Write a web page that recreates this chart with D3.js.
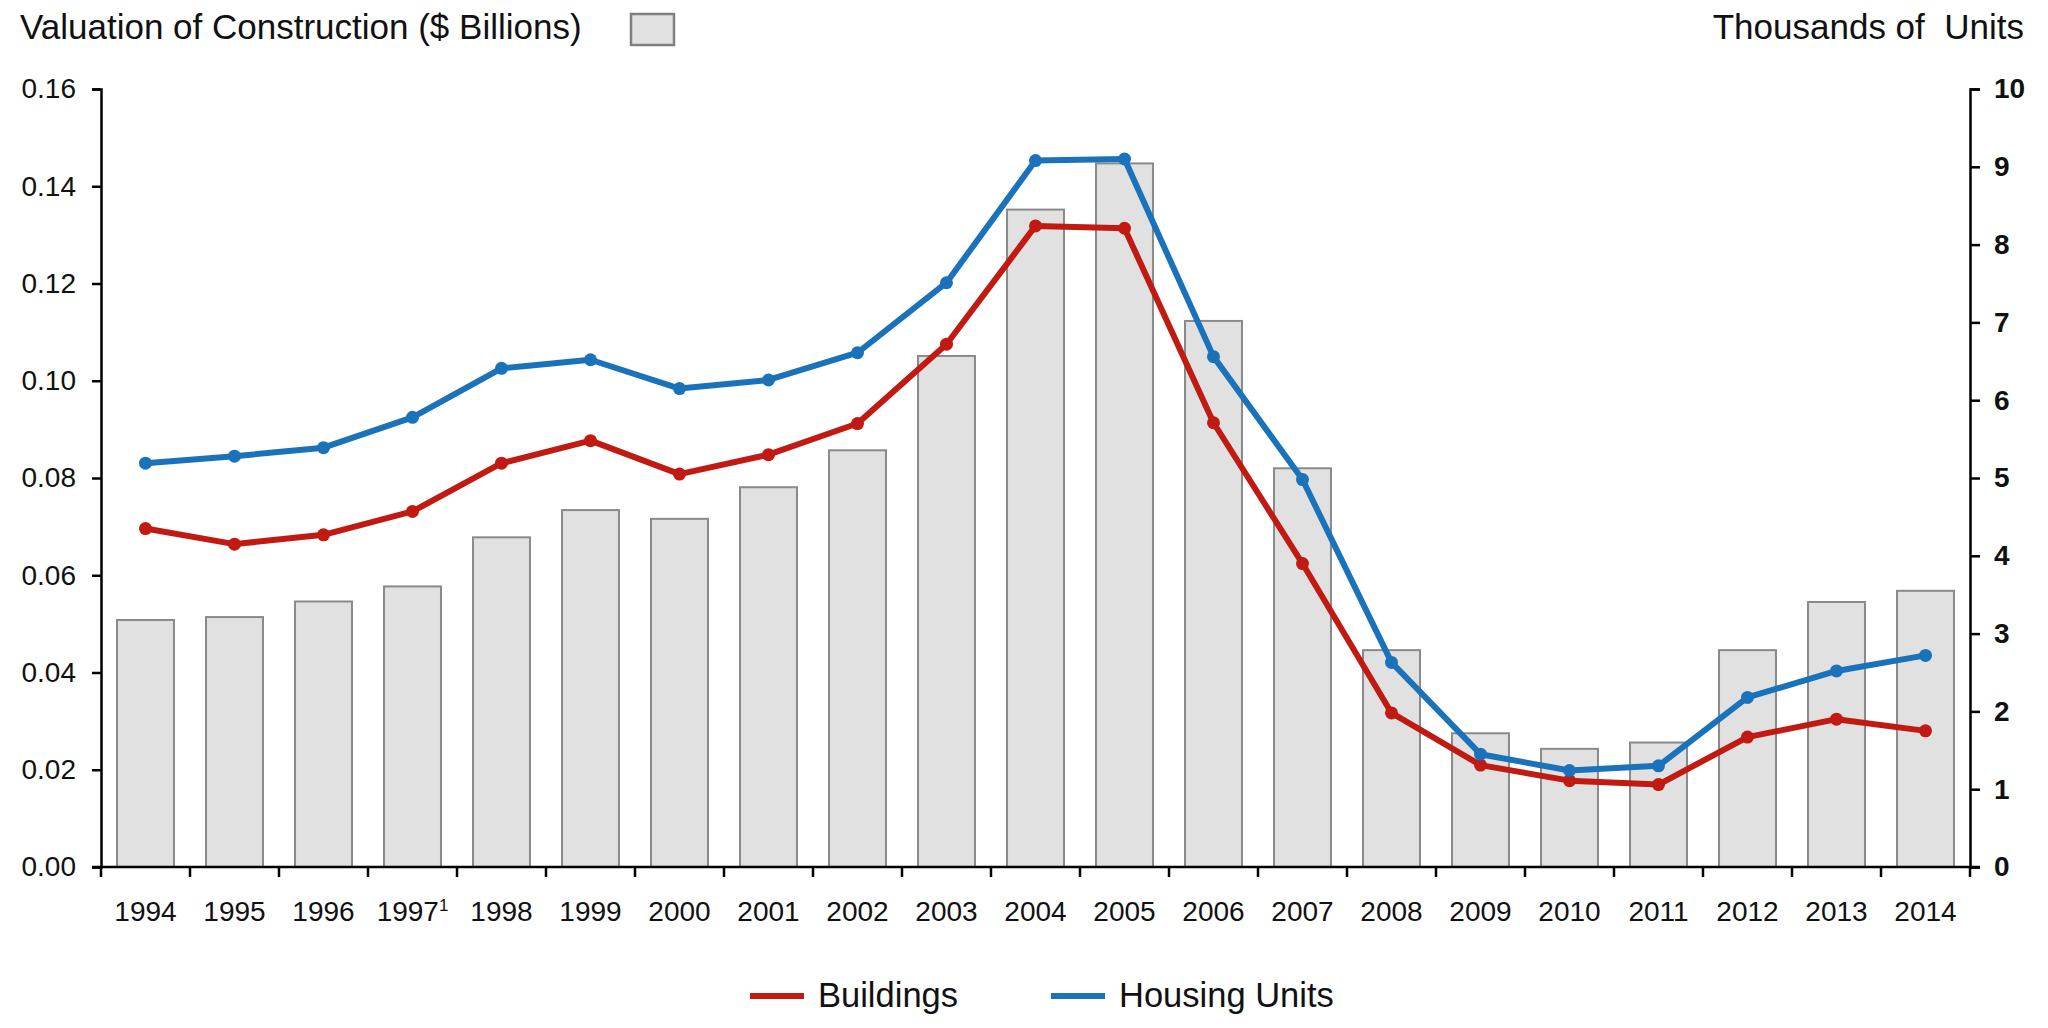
<!DOCTYPE html>
<html>
<head>
<meta charset="utf-8">
<script src="https://cdn.jsdelivr.net/npm/d3@7"></script>
<style>
  body { margin: 0; background: #fff; }
  text { font-family: "Liberation Sans", Arial, sans-serif; fill: #111; }
</style>
</head>
<body>
<svg id="canvas" width="2048" height="1028"></svg>
<script>
// values
const years = ["1994","1995","1996","1997","1998","1999","2000","2001","2002","2003","2004",
               "2005","2006","2007","2008","2009","2010","2011","2012","2013","2014"]
const valuation = [0.0508,0.0514,0.0546,0.0577,0.0678,0.0734,0.0716,0.0781,0.0857,0.1051,0.1352,
                   0.1447,0.1123,0.0820,0.0446,0.0275,0.0243,0.0256,0.0446,0.0545,0.0568]
const buildings = [4.35,4.15,4.27,4.57,5.19,5.48,5.05,5.30,5.70,6.72,8.24,
                   8.21,5.71,3.90,1.98,1.31,1.11,1.06,1.67,1.90,1.75]
const housingUnits = [5.19,5.28,5.39,5.78,6.41,6.52,6.15,6.26,6.61,7.51,9.08,
                      9.10,6.56,4.98,2.63,1.45,1.24,1.30,2.18,2.52,2.72]
const leftTicks = [0,0.02,0.04,0.06,0.08,0.10,0.12,0.14,0.16]
const rightTicks = [0,1,2,3,4,5,6,7,8,9,10]

const red = '#c01a13'
const blue = '#1a72bb'

const canvas = d3.select('#canvas')
const plotLeft = 101, plotRight = 1970, plotTop = 89, plotBottom = 867

const x = d3.scaleBand().domain(years).range([plotLeft, plotRight]).paddingInner(0.36).paddingOuter(0.18)
const xb = d3.scaleBand().domain(years).range([plotLeft, plotRight])
const yL = d3.scaleLinear().domain([0, 0.16]).range([plotBottom, plotTop])
const yR = d3.scaleLinear().domain([0, 10]).range([plotBottom, plotTop])

// bars
canvas.selectAll('rect.bar')
    .data(years)
    .enter()
    .append('rect')
    .attr('class', 'bar')
    .attr('x', d => x(d))
    .attr('width', x.bandwidth())
    .attr('y', (d, i) => yL(valuation[i]))
    .attr('height', (d, i) => plotBottom - yL(valuation[i]))
    .attr('fill', '#e1e1e1')
    .attr('stroke', '#8a8a8a')
    .attr('stroke-width', 2)

// lines
const cx = d => xb(d) + xb.bandwidth() / 2
function drawSeries(vals, color) {
    const line = d3.line()
        .x((d, i) => cx(years[i]))
        .y(d => yR(d))
    canvas.append('path')
        .attr('d', line(vals))
        .attr('fill', 'none')
        .attr('stroke', color)
        .attr('stroke-width', 6)
        .attr('stroke-linejoin', 'round')
    canvas.selectAll(null)
        .data(vals)
        .enter()
        .append('circle')
        .attr('cx', (d, i) => cx(years[i]))
        .attr('cy', d => yR(d))
        .attr('r', 6.5)
        .attr('fill', color)
}
drawSeries(buildings, red)
drawSeries(housingUnits, blue)

// axes
function styleAxis(g) {
    g.select('.domain').attr('stroke', '#000').attr('stroke-width', 2.5)
    g.selectAll('.tick line').attr('stroke', '#000').attr('stroke-width', 2.5)
    g.selectAll('.tick text').attr('font-size', 28)
}

const axL = canvas.append('g')
    .attr('transform', `translate(${plotLeft},0)`)
    .call(d3.axisLeft(yL).tickValues(leftTicks).tickFormat(d3.format('.2f')).tickSize(9).tickSizeOuter(9).tickPadding(16))
styleAxis(axL)

const axR = canvas.append('g')
    .attr('transform', `translate(${plotRight},0)`)
    .call(d3.axisRight(yR).tickValues(rightTicks).tickFormat(d3.format('d')).tickSize(10).tickSizeOuter(10).tickPadding(14))
styleAxis(axR)
axR.selectAll('.tick text').attr('font-weight', 'bold')

const axB = canvas.append('g')
    .attr('transform', `translate(0,${plotBottom})`)
    .call(d3.axisBottom(xb).tickSize(0).tickPadding(34))
styleAxis(axB)
axB.select('.domain').attr('d', `M${plotLeft - 9},0H${plotRight + 10}`)
axB.selectAll('.tick line').remove()
// ticks between categories
canvas.append('g')
    .selectAll('line')
    .data(years)
    .enter()
    .append('line')
    .attr('x1', d => xb(d) + xb.bandwidth())
    .attr('x2', d => xb(d) + xb.bandwidth())
    .attr('y1', plotBottom)
    .attr('y2', plotBottom + 10)
    .attr('stroke', '#000')
    .attr('stroke-width', 2.5)
canvas.append('line')
    .attr('x1', plotLeft).attr('x2', plotLeft).attr('y1', plotBottom).attr('y2', plotBottom + 10)
    .attr('stroke', '#000').attr('stroke-width', 2.5)
axB.selectAll('.tick text')
    .filter(d => d === '1997')
    .append('tspan')
    .attr('dy', -10)
    .attr('font-size', 17)
    .text('1')

// headers
canvas.append('text')
    .attr('x', 20).attr('y', 39)
    .attr('font-size', 35)
    .text('Valuation of Construction ($ Billions)')
canvas.append('rect')
    .attr('x', 631).attr('y', 14).attr('width', 43).attr('height', 31)
    .attr('fill', '#e1e1e1').attr('stroke', '#808080').attr('stroke-width', 2.5)
canvas.append('text')
    .attr('x', 2024).attr('y', 39)
    .attr('font-size', 35)
    .attr('text-anchor', 'end')
    .attr('xml:space', 'preserve')
    .text('Thousands of  Units')

// legend
const legend = [
    {name: 'Buildings', color: red, x: 750},
    {name: 'Housing Units', color: blue, x: 1051}
]
const lg = canvas.append('g').selectAll('g').data(legend).enter().append('g')
lg.append('line')
    .attr('x1', d => d.x).attr('x2', d => d.x + 54)
    .attr('y1', 996).attr('y2', 996)
    .attr('stroke', d => d.color).attr('stroke-width', 6)
lg.append('text')
    .attr('x', d => d.x + 68).attr('y', 1007)
    .attr('font-size', 34.5)
    .text(d => d.name)
</script>
</body>
</html>
